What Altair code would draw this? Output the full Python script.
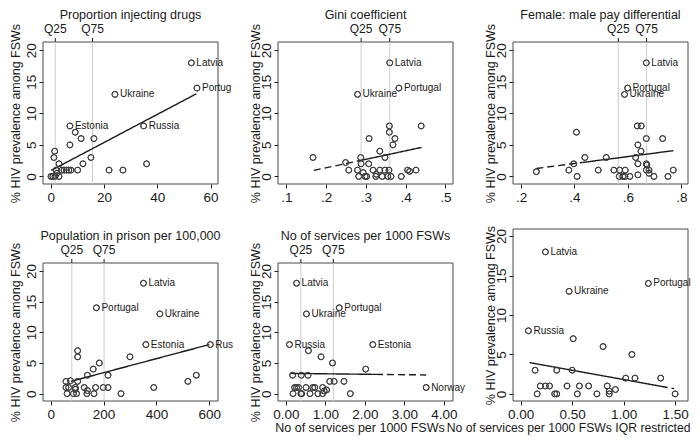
import altair as alt
import pandas as pd

FONT = "Liberation Sans"
INK = "#1a1a1a"
PT = "#3d3d3d"
FRAME = "#4a4a4a"
QLINE = "#cccccc"

W = 175
H_TOP = 142
H_BOT = 172
OFF = 34
YTITLE = "% HIV prevalence among FSWs"
QLAB = ["Q25", "Q75"]

# ---- Panel 1: Proportion injecting drugs
p1_x = [52.8, 54.9, 24.1, 34.9, 7.2, 9.2, 11.4, 16.2, 7.2, 1.5, 1.2, 15.1, 3.1, 12.1, 36.0,
        2.0, 4.2, 5.0, 5.9, 6.8, 7.6, 10.1, 21.9, 27.1, 2.3, 0.1, 0.8, 1.6, 3.1]
p1_y = [18, 14, 13, 8, 8, 7, 6, 6, 5, 4, 3, 3, 2, 2, 2,
        1, 1, 1, 1, 1, 1, 1, 1, 1, 0.5, 0, 0, 0, 0]
p1_names = ["Latvia", "Portugal", "Ukraine", "Russia", "Estonia"]
p1_q = [1.7, 15.7]
p1_fx1, p1_fy1, p1_fx2, p1_fy2, p1_fs = [0.2], [0.96], [54.7], [13.1], ["solid"]

# ---- Panel 2: Gini coefficient
p2_x = [0.360, 0.383, 0.279, 0.359, 0.439, 0.359, 0.308, 0.373, 0.368, 0.335, 0.167, 0.287, 0.348,
        0.249, 0.288, 0.307, 0.257, 0.279, 0.318, 0.335, 0.348, 0.358, 0.405, 0.410, 0.426,
        0.293, 0.326, 0.282, 0.298, 0.302, 0.325, 0.341, 0.355, 0.363, 0.389]
p2_y = [18, 14, 13, 8, 8, 7, 6, 6, 5, 4, 3, 3, 3, 2.2, 2, 2, 1, 1, 1, 1, 1, 1, 1, 0.8, 1,
        0.6, 0.35, 0, 0, 0, 0, 0, 0, 0, 0]
p2_names = ["Latvia", "Portugal", "Ukraine"]
p2_q = [0.288, 0.36]
p2_fx1, p2_fy1, p2_fx2, p2_fy2, p2_fs = [0.169, 0.283], [0.96, 2.48], [0.283, 0.44], [2.48, 4.6], ["dash", "solid"]

# ---- Panel 3: Female: male pay differential
p3_x = [0.669, 0.599, 0.5875, 0.635, 0.650, 0.4075, 0.669, 0.730, 0.6375, 0.649, 0.439, 0.519, 0.629,
        0.3975, 0.6375, 0.669, 0.671, 0.379, 0.489, 0.5475, 0.569, 0.590, 0.669, 0.679, 0.770,
        0.2575, 0.6375, 0.679, 0.410, 0.5675, 0.581, 0.589, 0.6075, 0.6975, 0.750]
p3_y = [18, 14, 13, 8, 8, 7, 6, 6, 5, 4, 3, 3, 3, 2, 2, 2, 1.8, 1, 1, 1, 1, 1, 1, 1, 1,
        0.75, 0.25, 0.5, 0, 0, 0, 0, 0, 0, 0]
p3_names = ["Latvia", "Portugal", "Ukraine"]
p3_q = [0.564, 0.67]
p3_fx1, p3_fy1, p3_fx2, p3_fy2, p3_fs = [0.2575, 0.43], [1.26, 2.21], [0.43, 0.77], [2.21, 4.08], ["dash", "solid"]

# ---- Panel 4: Population in prison per 100,000
p4_x = [351, 173, 413, 360, 604, 102, 102, 300, 184, 161, 139, 217, 551, 58, 75, 102, 519,
        58, 68, 93, 127, 170, 199, 217, 390, 93, 139, 62, 86, 98, 137, 164, 266]
p4_y = [18, 14, 13, 8, 8, 7, 6, 6, 5, 4, 3, 3, 3, 2, 2.1, 2, 2,
        1, 1, 1, 1, 1, 1, 1, 1, 0.7, 0.5, 0, 0, 0, 0, 0, 0]
p4_names = ["Latvia", "Portugal", "Ukraine", "Estonia", "Russia"]
p4_q = [80, 202]
p4_fx1, p4_fy1, p4_fx2, p4_fy2, p4_fs = [77], [2.0], [600], [8.0], ["solid"]

# ---- Panel 5: No of services per 1000 FSWs
p5_x = [0.27, 1.35, 0.52, 0.09, 2.20, 3.55, 0.57, 0.89, 1.18, 2.02, 0.17, 0.39, 0.56, 1.11, 1.22, 1.47,
        0.22, 0.27, 0.32, 0.51, 0.68, 0.73, 0.93, 0.97, 1.03, 0.18, 0.38, 0.40, 0.61, 0.81, 0.93, 1.63]
p5_y = [18, 14, 13, 8, 8, 1, 7, 6, 5, 4, 3, 3, 3, 2, 2, 2,
        1, 1, 1, 1, 1, 1, 1, 0.45, 0.6, 0, 0, 0, 0, 0, 0, 0]
p5_names = ["Latvia", "Portugal", "Ukraine", "Russia", "Estonia", "Norway"]
p5_q = [0.38, 1.2]
p5_fx1, p5_fy1, p5_fx2, p5_fy2, p5_fs = [0.12, 2.28], [3.3, 3.14], [2.28, 3.55], [3.14, 3.05], ["solid", "dash"]

# ---- Panel 6: No of services per 1000 FSWs IQR restricted
p6_x = [0.24, 1.24, 0.47, 0.075, 0.51, 0.80, 1.08, 0.14, 0.35, 0.50, 1.02, 1.11, 1.36,
        0.19, 0.24, 0.28, 0.45, 0.57, 0.66, 0.84, 0.86, 0.92, 0.16, 0.33, 0.35, 0.55, 0.74, 0.86, 1.50]
p6_y = [18, 14, 13, 8, 7, 6, 5, 3, 3, 3, 2, 2, 2,
        1, 1, 1, 1, 1, 1, 1, 0.35, 0.55, 0, 0, 0, 0, 0, 0, 0]
p6_names = ["Latvia", "Portugal", "Ukraine", "Russia"]
p6_fx1, p6_fy1, p6_fx2, p6_fy2, p6_fs = [0.085, 1.36], [3.97, 0.97], [1.36, 1.49], [0.97, 0.67], ["solid", "dash"]

YD = [-1.2, 21.3]
YD_LOW = [-1.2, 21.3 + OFF * (YD[1] - YD[0]) / (H_BOT - OFF)]   # frame starts OFF px lower
LABEL_OVERHANG = 19   # labels may run this far past the frame before being cut


def panel(px, py, names, q, fx1, fy1, fx2, fy2, fs, xdom, ydom, xticks, xfmt,
          title, xtitle, h, ftop, xtitle_x=None, xtitle_align=None, xtitle_size=12.5, ytpad=2):
    xs = alt.Scale(domain=xdom, nice=False, zero=False)
    ys = alt.Scale(domain=ydom, nice=False, zero=False)
    pdf = pd.DataFrame({"x": px, "y": py})
    dummy = pd.DataFrame({"a": [0]})

    xkw = dict(values=xticks, labelExpr=xfmt, title=xtitle, labelFontSize=13.5, labelPadding=2,
               tickSize=4, tickColor=INK, labelColor=INK, domain=False, grid=False,
               labelFlush=False, labelOverlap=False, titleFontSize=xtitle_size, titlePadding=1,
               titleFontWeight="normal", titleColor=INK)
    if xtitle_x is not None:
        xkw["titleX"] = xtitle_x
    if xtitle_align:
        xkw["titleAlign"] = xtitle_align
    ykw = dict(values=[0, 5, 10, 15, 20], title=YTITLE, labelAngle=270, labelAlign="center",
               labelBaseline="bottom", labelFontSize=13.5, labelPadding=1, tickSize=4,
               tickColor=INK, labelColor=INK, domain=False, grid=False,
               titleFontSize=12.5, titlePadding=ytpad, titleFontWeight="normal", titleColor=INK)
    if ftop:
        ykw["titleY"] = (ftop + h) / 2
    X = alt.X("x:Q", scale=xs, axis=alt.Axis(**xkw))
    Y = alt.Y("y:Q", scale=ys, axis=alt.Axis(**ykw))

    layers = []
    layers.append(alt.Chart(pdf).mark_point(shape="circle", filled=False, size=34, strokeWidth=1,
                                            color=PT, opacity=1).encode(x=X, y=Y))
    layers.append(alt.Chart(dummy).mark_rect(fill="transparent", stroke=FRAME, strokeWidth=1).encode(
        x=alt.value(0), x2=alt.value(W), y=alt.value(ftop), y2=alt.value(h)))
    if q:
        qdf = pd.DataFrame({"x": q, "lab": QLAB})
        layers.append(alt.Chart(qdf).mark_rule(color=QLINE, strokeWidth=1).encode(
            x=X, y=alt.value(ftop), y2=alt.value(h)))
        layers.append(alt.Chart(qdf).mark_rule(color=INK, strokeWidth=1).encode(
            x=X, y=alt.value(ftop - 4), y2=alt.value(ftop)))
        layers.append(alt.Chart(qdf).mark_text(fontSize=12, baseline="bottom", color=INK).encode(
            x=X, y=alt.value(ftop - 6), text="lab:N"))
    fdf = pd.DataFrame({"x": fx1, "y": fy1, "x2": fx2, "y2": fy2, "s": fs})
    layers.append(alt.Chart(fdf).mark_rule(color=INK, strokeWidth=1.4).encode(
        x=X, y=Y, x2="x2:Q", y2="y2:Q",
        strokeDash=alt.StrokeDash("s:N", scale=alt.Scale(domain=["solid", "dash"], range=[[1, 0], [7, 4]]),
                                  legend=None)))
    layers.append(alt.Chart(pdf).mark_point(shape="circle", filled=False, size=34, strokeWidth=1,
                                            color=PT, opacity=1).encode(x=X, y=Y))
    # country labels: cut where the panel's region ends, a little past the frame
    for i, nm in enumerate(names):
        room = W + LABEL_OVERHANG - ((px[i] - xdom[0]) / (xdom[1] - xdom[0]) * W + 5)
        ldf = pd.DataFrame({"x": [px[i]], "y": [py[i]], "lab": [nm]})
        layers.append(alt.Chart(ldf).mark_text(
            align="left", baseline="middle", dx=5, fontSize=10, color=INK,
            limit=max(room, 1), ellipsis=" ").encode(x=X, y=Y, text="lab:N"))
    if title:
        layers.append(alt.Chart(dummy).mark_text(fontSize=12.5, color=INK, baseline="middle").encode(
            x=alt.value(W / 2), y=alt.value(ftop - 27), text=alt.value(title)))
    return alt.layer(*layers).properties(width=W, height=h)


F1 = "substring(format(datum.value, '.1f'), 1)"
F0 = "format(datum.value, 'd')"
F2 = "format(datum.value, '.2f')"

c1 = panel(p1_x, p1_y, p1_names, p1_q, p1_fx1, p1_fy1, p1_fx2, p1_fy2, p1_fs, [-2.9, 62.8], YD,
           [0, 20, 40, 60], F0, "Proportion injecting drugs", None, H_TOP, 0)
c2 = panel(p2_x, p2_y, p2_names, p2_q, p2_fx1, p2_fy1, p2_fx2, p2_fy2, p2_fs, [0.079, 0.519], YD,
           [0.1, 0.2, 0.3, 0.4, 0.5], F1, "Gini coefficient", None, H_TOP, 0, ytpad=-3)
c3 = panel(p3_x, p3_y, p3_names, p3_q, p3_fx1, p3_fy1, p3_fx2, p3_fy2, p3_fs, [0.17, 0.825], YD,
           [0.2, 0.4, 0.6, 0.8], F1, "Female: male pay differential", None, H_TOP, 0, ytpad=-3)
c4 = panel(p4_x, p4_y, p4_names, p4_q, p4_fx1, p4_fy1, p4_fx2, p4_fy2, p4_fs, [-29, 633], YD_LOW,
           [0, 200, 400, 600], F0, "Population in prison per 100,000", None, H_BOT, OFF)
c5 = panel(p5_x, p5_y, p5_names, p5_q, p5_fx1, p5_fy1, p5_fx2, p5_fy2, p5_fs, [-0.2, 4.23], YD_LOW,
           [0, 1, 2, 3, 4], F2, "No of services per 1000 FSWs", "No of services per 1000 FSWs",
           H_BOT, OFF, xtitle_x=W / 2 - 6, ytpad=-3)
c6 = panel(p6_x, p6_y, p6_names, None, p6_fx1, p6_fy1, p6_fx2, p6_fy2, p6_fs, [-0.075, 1.625], [-0.9, 20.9],
           [0, 0.5, 1, 1.5], F2, None, "No of services per 1000 FSWs IQR restricted", H_BOT, 0,
           xtitle_x=W + 2, xtitle_align="right", xtitle_size=12.2, ytpad=-3)

chart = alt.concat(c1, c2, c3, c4, c5, c6, columns=3, spacing={"row": 45, "column": 60},
                   bounds="flush").properties(padding=0).configure(font=FONT).configure_view(
    stroke="transparent")

chart.save("out.html", embed_options={"renderer": "svg", "actions": False})
